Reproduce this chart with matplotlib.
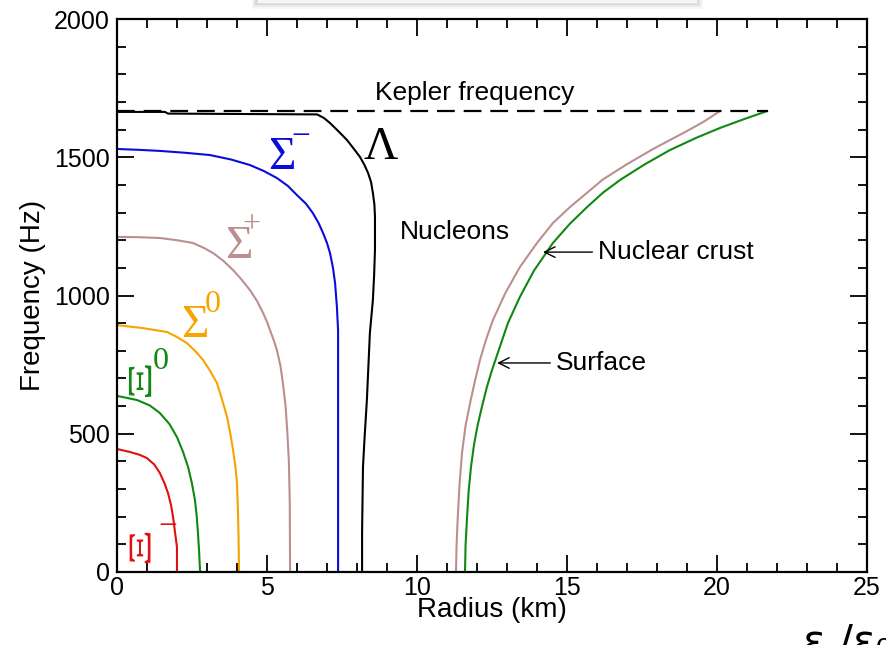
import matplotlib.pyplot as plt
from matplotlib.patches import Rectangle, PathPatch
from matplotlib.textpath import TextPath
from matplotlib.font_manager import FontProperties
from matplotlib.transforms import Affine2D, ScaledTranslation
from matplotlib.ticker import MultipleLocator

# onset boundaries (radius in km, spin frequency in Hz) for each particle population
xi_minus_r = [0, 0.43, 0.75, 1.0, 1.25, 1.43, 1.58, 1.7, 1.8, 1.87, 1.94, 2.0, 2.0]
xi_minus_f = [445, 434, 424, 412, 388, 358, 322, 286, 243, 199, 140, 90, 0]

xi_zero_r = [0, 0.67, 1.1, 1.43, 1.75, 2.0, 2.2, 2.37, 2.5, 2.6, 2.66, 2.7, 2.74, 2.77]
xi_zero_f = [637, 622, 602, 575, 535, 488, 435, 380, 320, 260, 200, 141, 70, 0]

sigma_zero_r = [0, 0.87, 1.67, 2.0, 2.33, 2.6, 2.87, 3.1, 3.33, 3.5, 3.67, 3.78, 3.87,
                3.95, 4.0, 4.03, 4.05, 4.07]
sigma_zero_f = [893, 882, 868, 850, 828, 800, 767, 728, 684, 625, 561, 500, 441,
                380, 322, 230, 141, 0]

sigma_plus_r = [0, 0.7, 1.43, 2.0, 2.53, 2.9, 3.2, 3.55, 3.87, 4.15, 4.43, 4.67, 4.87,
                5.0, 5.1, 5.22, 5.33, 5.45, 5.53, 5.62, 5.68, 5.73, 5.76, 5.77]
sigma_plus_f = [1212, 1211, 1208, 1200, 1190, 1172, 1154, 1125, 1092, 1058, 1020, 980, 937,
                905, 875, 840, 803, 745, 684, 600, 503, 400, 250, 0]

sigma_minus_r = [0, 0.7, 1.43, 2.3, 3.1, 3.8, 4.43, 4.9, 5.33, 5.7, 6.0, 6.3, 6.53, 6.72,
                 6.87, 7.0, 7.1, 7.2, 7.27, 7.33, 7.37, 7.37]
sigma_minus_f = [1530, 1527, 1523, 1516, 1508, 1492, 1472, 1450, 1425, 1396, 1363, 1332,
                 1298, 1262, 1226, 1190, 1154, 1100, 1045, 960, 875, 0]

lambda_r = [0, 1.6, 1.7, 6.67, 6.9, 7.1, 7.4, 7.67, 7.9, 8.1, 8.25, 8.37, 8.47, 8.53,
            8.58, 8.6, 8.6, 8.57, 8.53, 8.43, 8.33, 8.25, 8.2, 8.17, 8.17]
lambda_f = [1664, 1664, 1658, 1655, 1642, 1624, 1592, 1562, 1530, 1501, 1472, 1443, 1410,
            1371, 1330, 1284, 1165, 1070, 984, 864, 622, 480, 380, 141, 0]

crust_r = [11.30, 11.32, 11.36, 11.42, 11.50, 11.62, 11.77, 11.93, 12.10, 12.30, 12.53,
           12.95, 13.43, 14.0, 14.53, 15.1, 16.2, 17.0, 17.87, 19.0, 19.53, 20.1]
crust_f = [0, 100, 200, 320, 430, 530, 611, 690, 767, 840, 911,
           1010, 1103, 1190, 1262, 1320, 1420, 1475, 1530, 1595, 1627, 1667]

surface_r = [11.60, 11.62, 11.67, 11.72, 11.80, 11.90, 12.02, 12.17, 12.33, 12.50, 12.67,
             13.03, 13.43, 13.9, 14.53, 15.1, 15.67, 16.2, 16.77, 17.6, 18.43, 19.3,
             20.1, 20.9, 21.67]
surface_f = [0, 100, 200, 290, 380, 460, 530, 600, 669, 730, 785,
             900, 995, 1090, 1190, 1260, 1320, 1372, 1418, 1475, 1526, 1570,
             1606, 1638, 1667]

kepler_f = 1667
kepler_r_max = 21.7

plt.rcParams['font.family'] = ['Liberation Sans', 'DejaVu Sans']

fig = plt.figure(figsize=(8.86, 6.45), dpi=100)
ax = fig.add_axes([0.132, 0.1132, 0.8466, 0.8573])

lw = 1.5
ax.plot(xi_minus_r, xi_minus_f, color='#e01010', lw=lw)
ax.plot(xi_zero_r, xi_zero_f, color='#118811', lw=lw)
ax.plot(sigma_zero_r, sigma_zero_f, color='#f5a400', lw=lw)
ax.plot(sigma_plus_r, sigma_plus_f, color='#bc8f8f', lw=lw)
ax.plot(sigma_minus_r, sigma_minus_f, color='#0b0bdc', lw=lw)
ax.plot(lambda_r, lambda_f, color='black', lw=lw)
ax.plot(crust_r, crust_f, color='#bc8f8f', lw=lw)
ax.plot(surface_r, surface_f, color='#118811', lw=lw)
ax.plot([0, kepler_r_max], [kepler_f, kepler_f], color='black', lw=1.6,
        dashes=(8, 4))

ax.set_xlim(0, 25)
ax.set_ylim(0, 2000)
ax.xaxis.set_major_locator(MultipleLocator(5))
ax.xaxis.set_minor_locator(MultipleLocator(1))
ax.yaxis.set_major_locator(MultipleLocator(500))
ax.yaxis.set_minor_locator(MultipleLocator(100))
ax.tick_params(which='both', direction='in', top=True, right=True,
               width=1.3, labelsize=18, colors='black')
ax.tick_params(which='major', length=12)
ax.tick_params(which='minor', length=6.5)
ax.tick_params(axis='x', pad=3)
ax.tick_params(axis='y', pad=5)
for s in ax.spines.values():
    s.set_linewidth(1.6)

ax.set_xlabel('Radius (km)', fontsize=20, labelpad=-2)
ax.set_ylabel('Frequency (Hz)', fontsize=20, labelpad=6)

serif = 'Liberation Serif'


def sideways_xi(x, y, w_pt, h_pt, color):
    # Xi glyph laid on its side, stretched to w_pt x h_pt and centred on (x, y)
    tp = TextPath((0, 0), 'Ξ', size=10, prop=FontProperties(family=serif))
    e = tp.get_extents()
    t = (Affine2D().translate(-(e.x0 + e.width / 2), -(e.y0 + e.height / 2))
         .rotate_deg(90).scale(w_pt / e.height, h_pt / e.width))
    path = t.transform_path(tp)
    trans = Affine2D().scale(fig.dpi / 72) + ScaledTranslation(x, y, ax.transData)
    ax.add_patch(PathPatch(path, facecolor=color, edgecolor='none', transform=trans))


# species labels
ax.text(5.5, 1497, 'Σ', color='#0b0bdc', fontsize=34, family=serif, ha='center', va='center')
ax.text(6.13, 1573, '−', color='#0b0bdc', fontsize=24, family=serif, ha='center', va='center')
ax.text(4.07, 1175, 'Σ', color='#bc8f8f', fontsize=34, family=serif, ha='center', va='center')
ax.text(4.47, 1255, '+', color='#bc8f8f', fontsize=23, family=serif, ha='center', va='center')
ax.text(2.6, 890, 'Σ', color='#f5a400', fontsize=34, family=serif, ha='center', va='center')
ax.text(3.2, 969, '0', color='#f5a400', fontsize=23, family=serif, ha='center', va='center')
ax.text(8.8, 1533, 'Λ', color='black', fontsize=34, family=serif, ha='center', va='center')
sideways_xi(0.77, 690, 16, 23, '#118811')
ax.text(1.47, 763, '0', color='#118811', fontsize=23, family=serif, ha='center', va='center')
sideways_xi(0.77, 87, 15, 22, '#e01010')
ax.text(1.7, 163, '−', color='#e01010', fontsize=24, family=serif, ha='center', va='center')

ax.text(11.93, 1732, 'Kepler frequency', fontsize=19, ha='center', va='center')
ax.text(11.27, 1230, 'Nucleons', fontsize=19, ha='center', va='center')
ax.annotate('Nuclear crust', xy=(14.2, 1157), xytext=(16.03, 1157), fontsize=19,
            va='center', ha='left',
            arrowprops=dict(arrowstyle='->', lw=1.0, color='black', shrinkA=2, shrinkB=0))
ax.annotate('Surface', xy=(12.67, 756), xytext=(14.63, 756), fontsize=19,
            va='center', ha='left',
            arrowprops=dict(arrowstyle='->', lw=1.0, color='black', shrinkA=2, shrinkB=0))

# strip of a panel sitting above the plot, with its drop shadow
for i, a in enumerate([0.03, 0.05, 0.08, 0.12]):
    fig.patches.append(Rectangle((0.29 - 0.002 * (3 - i), 0.986 + 0.003 * i),
                                 0.497 + 0.004 * (3 - i), 0.03, transform=fig.transFigure,
                                 facecolor='black', alpha=a, edgecolor='none', zorder=5))
fig.patches.append(Rectangle((0.29, 0.996), 0.497, 0.03, transform=fig.transFigure,
                             facecolor='#f6f6f6', edgecolor='#e0e0e0', lw=0.6, zorder=6))

fig.text(0.906, 0.036, 'ε /ε₀', fontsize=30, family='DejaVu Sans', ha='left', va='top')

fig.savefig('out.png', dpi=100)
